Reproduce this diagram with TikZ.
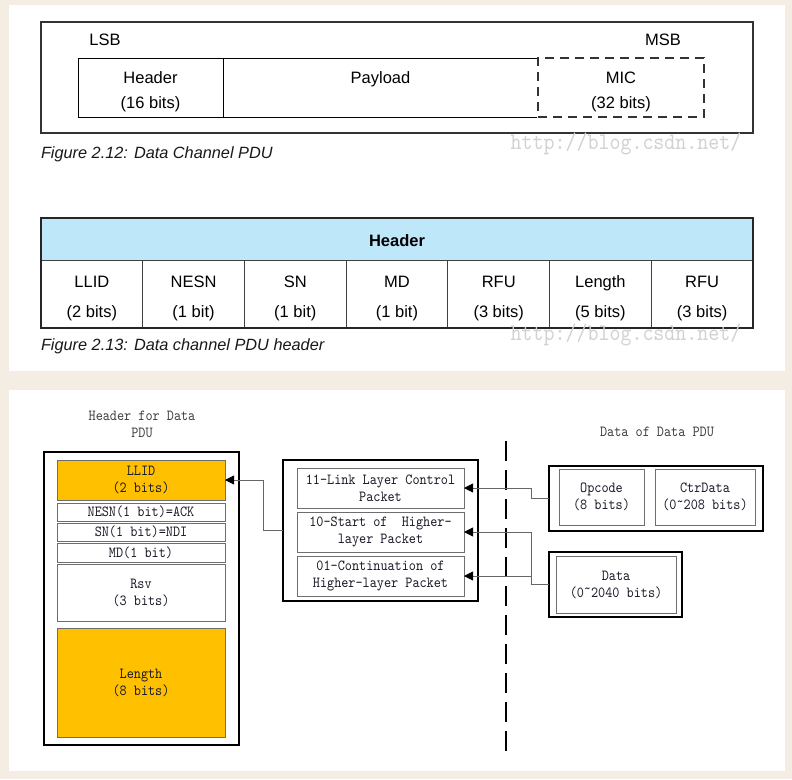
\documentclass[tikz,border=0pt]{standalone}
\usepackage{fontspec}
\setmainfont{Liberation Sans}
\newfontfamily\simfont{lmmono10-regular}[Extension=.otf, FakeStretch=0.88]
\usetikzlibrary{arrows.meta}
\definecolor{bgbeige}{HTML}{F3EDE3}
\definecolor{hdrblue}{HTML}{BEE7FA}
\definecolor{orng}{HTML}{FFC000}
\definecolor{wmark}{HTML}{D2D2D2}
\definecolor{boxgray}{HTML}{6E6E6E}
\definecolor{txtdark}{HTML}{1A1A28}
\newcommand\mkbox[7]{\node[#2, anchor=north west, minimum width={#5pt-#3pt}, minimum height={#6pt-#4pt}] (#1) at (#3,#4) {#7};}
\newcommand\upA{\rule{0pt}{20pt}}
\newcommand\upB{\rule{0pt}{21pt}}
\newcommand\hitilde{\raisebox{3.5pt}{\textasciitilde}}
\begin{document}
\begin{tikzpicture}[x=1pt,y=-1pt,
  every node/.style={inner sep=0pt, outer sep=0pt},
  sansA/.style={font=\fontsize{16.5}{25}\selectfont, align=center, text=black},
  sansB/.style={font=\fontsize{16.5}{30}\selectfont, align=center, text=black},
  capt/.style={font=\fontsize{16.3}{18}\selectfont\itshape, text=black!90, anchor=west},
  wm/.style={font=\simfont\fontsize{23.8}{25}\selectfont, text=wmark},
  sim/.style={font=\simfont\fontsize{15.4}{17}\selectfont, align=center, text=txtdark},
  solidcell/.style={draw=black, line width=1pt, sansA},
  miccell/.style={draw=black!80, line width=1.3pt, dash pattern=on 9pt off 6pt, sansA},
  tcell/.style={draw=black!75, line width=1pt, sansB},
  thick box/.style={draw=black, line width=2.6pt},
  wbox/.style={draw=boxgray, line width=0.9pt, fill=white, sim},
  obox/.style={draw=boxgray, line width=0.9pt, fill=orng, sim},
  conn/.style={draw=black!60, line width=0.9pt, -{Triangle[length=9pt,width=9pt,color=black]}},
  divider/.style={draw=black, line width=1.3pt, dash pattern=on 20pt off 9pt}
]
\useasboundingbox (0,0) rectangle (792,779);
\fill[bgbeige] (0,0) rectangle (792,779);
\fill[white] (9,5) rectangle (785,371);
\fill[white] (9,390) rectangle (785,771);

% ---------- Figure 2.12 ----------
\draw[draw=black!80, line width=1.3pt] (41,22) rectangle (753,133);
\node[font=\fontsize{16.5}{20}\selectfont] (lsb) at (105,40) {LSB};
\node[font=\fontsize{16.5}{20}\selectfont] (msb) at (663,40) {MSB};
\mkbox{hdr}{solidcell}{78}{58}{223}{117}{\upA Header\\(16 bits)}
\mkbox{pay}{solidcell}{223}{58}{538}{117}{\upA Payload\\\phantom{(16 bits)}}
\fill[white] (537,56) rectangle (539.5,119);
\mkbox{mic}{miccell}{538}{58}{704}{117}{\upA MIC\\(32 bits)}
\node[capt] (cap1) at (41,154) {Figure 2.12: Data Channel PDU};
\node[wm] (wm1) at (626,144) {http://blog.csdn.net/};

% ---------- Figure 2.13 ----------
\mkbox{hrow}{tcell, fill=hdrblue, font=\fontsize{16.5}{20}\selectfont\bfseries}{41}{218}{753}{260}{\rule{0pt}{15.5pt}Header}
\foreach \i/\t in {1/{LLID\\(2 bits)},2/{NESN\\(1 bit)},3/{SN\\(1 bit)},4/{MD\\(1 bit)},5/{RFU\\(3 bits)},6/{Length\\(5 bits)},7/{RFU\\(3 bits)}}{
  \pgfmathsetmacro\xa{41+(\i-1)*101.714}
  \pgfmathsetmacro\xb{41+\i*101.714}
  \mkbox{c\i}{tcell}{\xa}{260}{\xb}{328}{\upB\t}
}
\draw[draw=black!85, line width=1.3pt] (41,218) rectangle (753,328);
\node[capt] (cap2) at (41,346) {Figure 2.13: Data channel PDU header};
\node[wm] (wm2) at (626,335) {http://blog.csdn.net/};

% ---------- Lower diagram ----------
\node[sim, text=black!75] (hlabel) at (142,424) {Header for Data\\PDU};
\node[sim, text=black!75] (dlabel) at (657,432) {Data of Data PDU};

\mkbox{leftbox}{thick box}{44}{452}{239}{745}{}
\mkbox{llid}{obox}{57}{460}{225}{500}{LLID\\(2 bits)}
\mkbox{nesn}{wbox}{57}{503}{225}{521}{NESN(1 bit)=ACK}
\mkbox{sn}{wbox}{57}{523}{225}{541}{SN(1 bit)=NDI}
\mkbox{md}{wbox}{57}{543.5}{225}{562}{MD(1 bit)}
\mkbox{rsv}{wbox}{57}{564}{225}{621}{Rsv\\(3 bits)}
\mkbox{len}{obox}{57}{628}{225}{737}{Length\\(8 bits)}

\mkbox{midbox}{thick box}{283}{460}{478}{601}{}
\mkbox{p11}{wbox}{297}{468}{464}{508}{11-Link Layer Control\\Packet}
\mkbox{p10}{wbox}{297}{512}{464}{552}{10-Start of~ Higher-\\layer Packet}
\mkbox{p01}{wbox}{297}{556}{464}{596}{01-Continuation of\\Higher-layer Packet}

\mkbox{ctrlbox}{thick box}{549}{466}{763}{531}{}
\mkbox{opcode}{wbox}{559}{469}{644}{525}{Opcode\\(8 bits)}
\mkbox{ctrdata}{wbox}{655}{469}{755}{525}{CtrData\\(0\hitilde 208 bits)}

\mkbox{databox}{thick box}{549}{552}{682}{617}{}
\mkbox{data}{wbox}{556}{556}{676}{613}{Data\\(0\hitilde 2040 bits)}

\coordinate (dtop) at (506,441);
\coordinate (dbot) at (506,757);
\draw[divider] (dtop) -- (dbot);

\draw[conn] (midbox.west) -- ++(-20,0) |- (llid.east);
\draw[conn] (ctrlbox.west) -- ++(-18,0) |- (p11.east);
\draw[conn] (databox.west) -- ++(-18,0) |- (p10.east);
\draw[conn] (databox.west) -- ++(-18,0) |- (p01.east);
\end{tikzpicture}
\end{document}
